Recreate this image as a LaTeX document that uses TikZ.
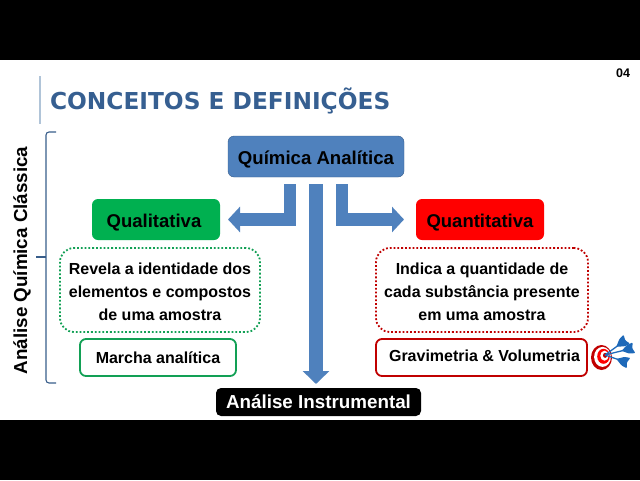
\documentclass[tikz,border=0pt]{standalone}
\usepackage{fontspec}
\setmainfont{Liberation Sans}
\newfontfamily\titlefont{DejaVu Sans}
\usetikzlibrary{arrows.meta, positioning}
\definecolor{qablue}{RGB}{79,129,189}
\definecolor{qaedge}{RGB}{56,93,138}
\definecolor{qatitle}{RGB}{54,95,145}
\definecolor{qarule}{RGB}{176,196,216}
\definecolor{qagreen}{RGB}{0,176,80}
\definecolor{qadeep}{RGB}{18,160,85}
\definecolor{qared}{RGB}{255,0,0}
\definecolor{qadark}{RGB}{192,0,0}
\definecolor{qadart}{RGB}{30,105,185}

\begin{document}
\begin{tikzpicture}[
  x=1pt, y=-1pt,
  every node/.style={font=\bfseries, text=black, inner sep=0pt, outer sep=0pt},
  head/.style={rectangle, rounded corners=6pt, draw=qaedge, fill=qablue,
               minimum width=176pt, minimum height=41pt, text height=15.6pt, text depth=0pt,
               font=\bfseries\fontsize{18.6}{20}\selectfont},
  kind/.style={rectangle, rounded corners=6pt, minimum width=128pt, minimum height=41pt,
               text height=16.4pt, text depth=0pt,
               font=\bfseries\fontsize{18.5}{20}\selectfont},
  note/.style={rectangle, rounded corners=14pt, line width=1.8pt, dotted, fill=white,
               minimum height=84pt, align=center,
               font=\bfseries\fontsize{16}{23}\selectfont},
  tech/.style={rectangle, rounded corners=6pt, line width=1.8pt, fill=white,
               minimum height=37pt, text depth=0pt,
               font=\bfseries\fontsize{16}{18}\selectfont},
  bigarrow/.style={-{Triangle[length=12pt, width=25pt]}, color=qablue,
                   line width=12.5pt},
  bracket/.style={draw=qaedge, line width=1.1pt},
]
\useasboundingbox (0,0) rectangle (640,480);

% ── Slide frame ──
\fill[black] (0,0) rectangle (640,60);
\fill[black] (0,420) rectangle (640,480);
\draw[qarule, line width=1.6pt] (40,76) -- (40,124);
\node[anchor=west, text=qatitle, font=\titlefont\bfseries\fontsize{23.3}{24}\selectfont] (title) at (50,101) {CONCEITOS E DEFINIÇÕES};
\node[font=\bfseries\fontsize{12.5}{13}\selectfont] (page) at (623,73.5) {04};

% ── Central column ──
\node[head] (quimica) at (316,156.5) {Química Analítica};
\node[rectangle, rounded corners=5pt, fill=black, text=white, minimum width=205pt,
      minimum height=28pt, text height=12pt, text depth=0pt,
      font=\bfseries\fontsize{18.8}{20}\selectfont] (instrumental) at (318.5,402) {Análise Instrumental};

% ── Qualitativa column ──
\node[kind, fill=qagreen] (qualitativa) at (156,219.5) {Qualitativa\hspace*{4pt}};
\node[note, draw=qadeep, minimum width=200pt, below=8pt of qualitativa, xshift=4pt] (revela)
  {\rule{0pt}{14.5pt}Revela a identidade dos\\elementos e compostos\\de uma amostra};
\node[tech, draw=qadeep, minimum width=156pt, text height=11.6pt, below=7pt of revela, xshift=-2pt] (marcha) {Marcha analítica};

% ── Quantitativa column ──
\node[kind, fill=qared] (quantitativa) at (480,219.5) {Quantitativa};
\node[note, draw=qadark, minimum width=212pt, below=8pt of quantitativa, xshift=2pt] (indica)
  {\rule{0pt}{14.5pt}Indica a quantidade de\\cada substância presente\\em uma amostra};
\node[tech, draw=qadark, minimum width=211pt, text height=8.4pt, below=7pt of indica, xshift=-0.5pt] (gravimetria) {\hspace*{6pt}Gravimetria \& Volumetria};

% ── Block arrows ──
\coordinate (qleft) at (290,184);
\coordinate (qright) at (342,184);
\coordinate (qmid) at (316,184);
\draw[bigarrow, shorten >=8pt] (qleft) |- (qualitativa.east);
\draw[bigarrow, shorten >=12pt] (qright) |- (quantitativa.west);
\draw[bigarrow, line width=14pt, -{Triangle[length=13pt, width=26pt]}, shorten >=4pt] (qmid) -- (qmid |- instrumental.north);

% ── Side bracket ──
\draw[bracket, rounded corners=3pt] (56,132) -- (46,132) -- (46,383) -- (56,383);
\draw[bracket] (46,257) -- (36,257);
\node[rotate=90, font=\bfseries\fontsize{18.8}{20}\selectfont] (classica) at (22,260.5) {Análise Química Clássica};

% ── Target ──
\foreach \r/\c/\s in {12.5/qadark/0, 10/white/1, 7.5/qared/2, 5/white/3, 2.5/qadark/3.6}
  \fill[\c] (601.5+\s,357.5-\s*0.6) ellipse ({\r*0.84} and \r);
\foreach \a/\l in {36/27, 14/30, -19/25} {
  \draw[qadart, line width=1.3pt, shift={(605,355)}, rotate=\a] (0,0) -- (\l-8,0);
  \fill[qadart, rounded corners=1pt, shift={(605,355)}, rotate=\a] (\l-13,0) -- (\l-6,-4.5) -- (\l,-5.5) -- (\l-2,0) -- (\l,5.5) -- (\l-6,4.5) -- cycle;
}
\end{tikzpicture}
\end{document}
